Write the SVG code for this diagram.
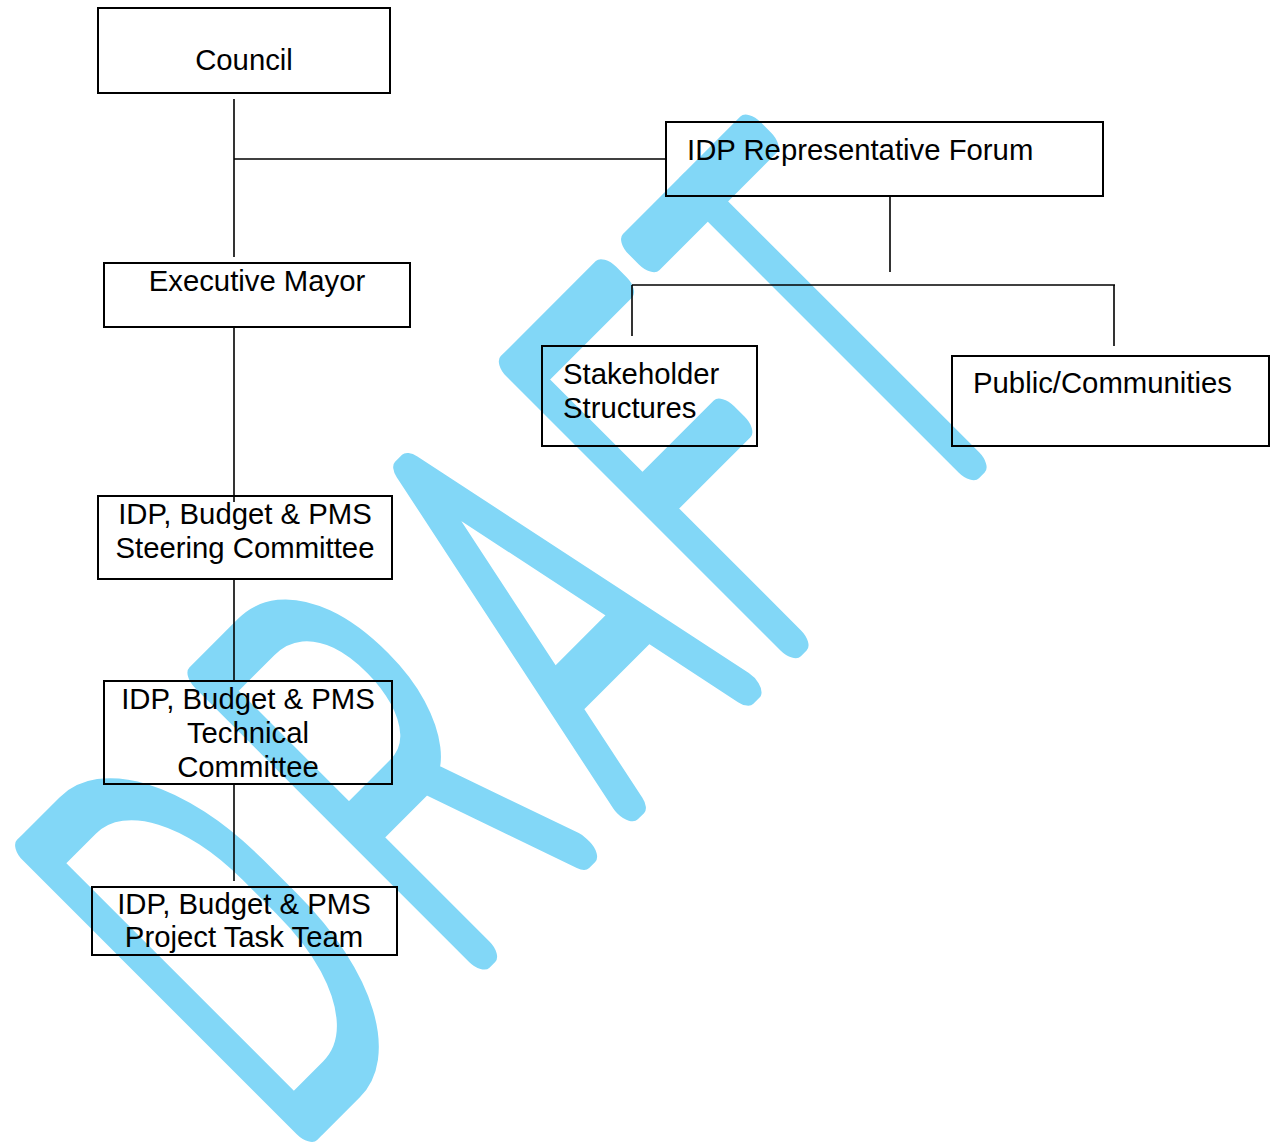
<svg xmlns="http://www.w3.org/2000/svg" width="1275" height="1147" viewBox="0 0 1275 1147">
<style>
.box{fill:none;stroke:#000;stroke-width:2}
.lbl{font-family:"Liberation Sans",Arial,sans-serif;font-size:29.3px;fill:#000}
.mid{text-anchor:middle}
.wm{font-family:Roboto,"Liberation Sans",sans-serif;font-weight:100;font-size:545px;fill:#82D7F7;stroke:#82D7F7;stroke-width:30px;stroke-linejoin:round;stroke-linecap:round}
#connectors line{stroke:#000;stroke-width:1.6}
</style>
<rect width="1275" height="1147" fill="#fff"/>
<g id="watermark">
<text class="wm" transform="translate(283,1148) rotate(-45) scale(0.56,1)" letter-spacing="48" dx="0 32 13 -6 -18" vector-effect="non-scaling-stroke">DRAFT</text>
</g>
<g id="connectors">
<line x1="234" y1="99" x2="234" y2="257"/>
<line x1="234" y1="159" x2="666" y2="159"/>
<line x1="234" y1="327" x2="234" y2="502"/>
<line x1="234" y1="579" x2="234" y2="681"/>
<line x1="234" y1="784" x2="234" y2="881"/>
<line x1="890" y1="196" x2="890" y2="272"/>
<line x1="632" y1="285" x2="1115" y2="285"/>
<line x1="632" y1="285" x2="632" y2="336"/>
<line x1="1114" y1="285" x2="1114" y2="346"/>
</g>
<g id="council">
<rect class="box" x="98" y="8" width="292" height="85"/>
<text class="lbl mid" x="244" y="70">Council</text>
</g>
<g id="executive-mayor">
<rect class="box" x="104" y="263" width="306" height="64"/>
<text class="lbl mid" x="257" y="291">Executive Mayor</text>
</g>
<g id="steering-committee">
<rect class="box" x="98" y="496" width="294" height="83"/>
<text class="lbl mid" x="245" y="524">IDP, Budget &amp; PMS</text>
<text class="lbl mid" x="245" y="558">Steering Committee</text>
</g>
<g id="technical-committee">
<rect class="box" x="104" y="681" width="288" height="103"/>
<text class="lbl mid" x="248" y="709">IDP, Budget &amp; PMS</text>
<text class="lbl mid" x="248" y="743">Technical</text>
<text class="lbl mid" x="248" y="777">Committee</text>
</g>
<g id="project-task-team">
<rect class="box" x="92" y="887" width="305" height="68"/>
<text class="lbl mid" x="244" y="914">IDP, Budget &amp; PMS</text>
<text class="lbl mid" x="244" y="947">Project Task Team</text>
</g>
<g id="idp-representative-forum">
<rect class="box" x="666" y="122" width="437" height="74"/>
<text class="lbl" x="687" y="160">IDP Representative Forum</text>
</g>
<g id="stakeholder-structures">
<rect class="box" x="542" y="346" width="215" height="100"/>
<text class="lbl" x="563" y="384">Stakeholder</text>
<text class="lbl" x="563" y="418">Structures</text>
</g>
<g id="public-communities">
<rect class="box" x="952" y="356" width="317" height="90"/>
<text class="lbl" x="973" y="393">Public/Communities</text>
</g>
</svg>
